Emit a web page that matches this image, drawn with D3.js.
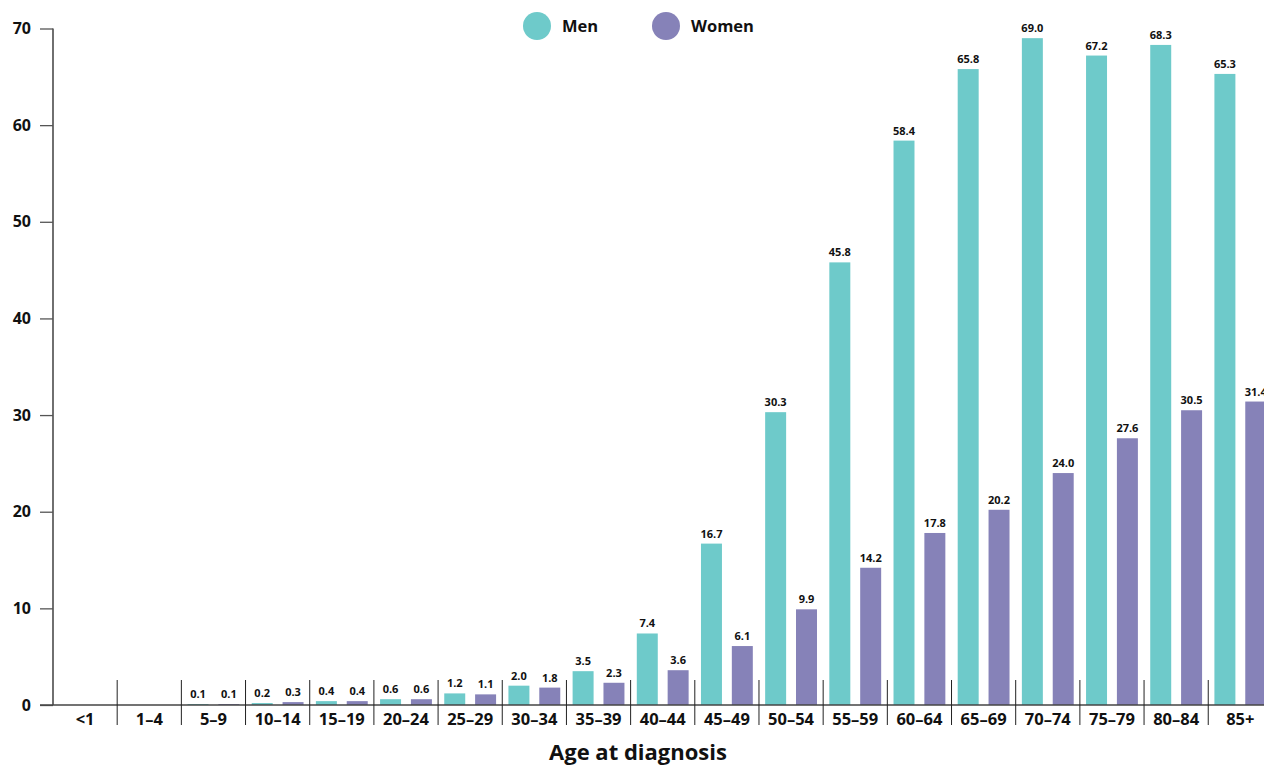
<!DOCTYPE html>
<html>
<head>
<meta charset="utf-8">
<script src="https://cdn.jsdelivr.net/npm/d3@7"></script>
<style>
  body { margin: 0; background: #fff; }
  svg { display: block; font-family: "Open Sans", Lato, sans-serif; }
  .tick-label { font-size: 16px; font-weight: 700; fill: #111; }
  .cat-label { font-size: 16.5px; font-weight: 700; fill: #111; }
  .value-label { font-size: 11px; font-weight: 700; fill: #111; }
  .legend-label { font-size: 16.5px; font-weight: 700; fill: #111; }
  .axis-title { font-size: 22px; font-weight: 700; fill: #111; }
</style>
</head>
<body>
<svg id="chart"></svg>
<script>
'use strict'

// data
const ageGroups = ["<1", "1–4", "5–9", "10–14", "15–19", "20–24", "25–29", "30–34", "35–39",
  "40–44", "45–49", "50–54", "55–59", "60–64", "65–69", "70–74", "75–79", "80–84", "85+"]
const menValues = [null, null, 0.1, 0.2, 0.4, 0.6, 1.2, 2.0, 3.5, 7.4, 16.7, 30.3, 45.8, 58.4, 65.8, 69.0, 67.2, 68.3, 65.3]
const womenValues = [null, null, 0.1, 0.3, 0.4, 0.6, 1.1, 1.8, 2.3, 3.6, 6.1, 9.9, 14.2, 17.8, 20.2, 24.0, 27.6, 30.5, 31.4]
const seriesNames = ["Men", "Women"]
const seriesColors = ["#6ecaca", "#8682b8"]
const yTicks = [0, 10, 20, 30, 40, 50, 60, 70]

const width = 1264
const height = 765
const axisX = 53
const baseY = 705
const topY = 28.5
const bandW = 64.18

const svg = d3.select('#chart').attr("width", width).attr("height", height)

// scales
const x = d3.scaleBand().domain(ageGroups).range([axisX, axisX + bandW * ageGroups.length]).padding(0)
const xInner = d3.scaleBand().domain(seriesNames).range([0, x.bandwidth()]).paddingInner(0.32).paddingOuter(0.2)
const y = d3.scaleLinear().domain([0, 70]).range([baseY, topY])
const color = d3.scaleOrdinal().domain(seriesNames).range(seriesColors)

// bars
const rows = ageGroups.map((g, i) => ({ group: g, values: [
  { name: "Men", value: menValues[i] },
  { name: "Women", value: womenValues[i] }
]}))

const groups = svg.selectAll(".grp")
  .data(rows)
  .enter().append("g")
  .attr("class", "grp")
  .attr("transform", d => "translate(" + x(d.group) + ",0)")

const cells = groups.selectAll(".cell")
  .data(d => d.values.filter(v => v.value != null))
  .enter().append("g")
  .attr("class", "cell")

cells.append("rect")
  .attr("x", d => xInner(d.name))
  .attr("y", d => y(d.value))
  .attr("width", xInner.bandwidth())
  .attr("height", d => baseY - y(d.value))
  .attr("fill", d => color(d.name))

cells.append("text")
  .attr("class", "value-label")
  .attr("x", d => xInner(d.name) + xInner.bandwidth() / 2)
  .attr("y", d => y(d.value) - 6)
  .attr("text-anchor", "middle")
  .text(d => d.value.toFixed(1))

// y axis
const yAxis = svg.append("g")
  .attr("transform", "translate(" + axisX + ",0)")
  .call(d3.axisLeft(y).tickValues(yTicks).tickSize(13).tickPadding(9))
yAxis.select(".domain").attr("stroke", "#222").attr("stroke-width", 1.3)
  .attr("d", "M0," + y(70) + "V" + baseY)
yAxis.selectAll(".tick line").attr("stroke", "#555").attr("stroke-width", 1.3)
yAxis.selectAll(".tick text").attr("class", "tick-label").attr("font-size", null).attr("font-family", null)
yAxis.attr("font-size", null).attr("font-family", null)

// baseline
svg.append("line")
  .attr("x1", axisX - 13).attr("x2", width)
  .attr("y1", baseY).attr("y2", baseY)
  .attr("stroke", "#444").attr("stroke-width", 1.5)

// separators between age groups
svg.selectAll(".sep")
  .data(ageGroups.slice(1))
  .enter().append("line")
  .attr("class", "sep")
  .attr("x1", d => x(d)).attr("x2", d => x(d))
  .attr("y1", 680).attr("y2", 725)
  .attr("stroke", "#222").attr("stroke-width", 1)

// category labels
svg.selectAll(".cat-label")
  .data(ageGroups)
  .enter().append("text")
  .attr("class", "cat-label")
  .attr("x", d => x(d) + x.bandwidth() / 2)
  .attr("y", 725)
  .attr("text-anchor", "middle")
  .text(d => d)

// axis title
svg.append("text")
  .attr("class", "axis-title")
  .attr("x", 638)
  .attr("y", 760)
  .attr("text-anchor", "middle")
  .text("Age at diagnosis")

// legend
const legendX = [537, 666]
const legend = svg.selectAll(".legend")
  .data(seriesNames)
  .enter().append("g")
  .attr("class", "legend")
  .attr("transform", (d, i) => "translate(" + legendX[i] + ",26)")
legend.append("circle").attr("r", 14).attr("fill", d => color(d))
legend.append("text")
  .attr("class", "legend-label")
  .attr("x", 25).attr("y", 6)
  .text(d => d)
</script>
</body>
</html>
